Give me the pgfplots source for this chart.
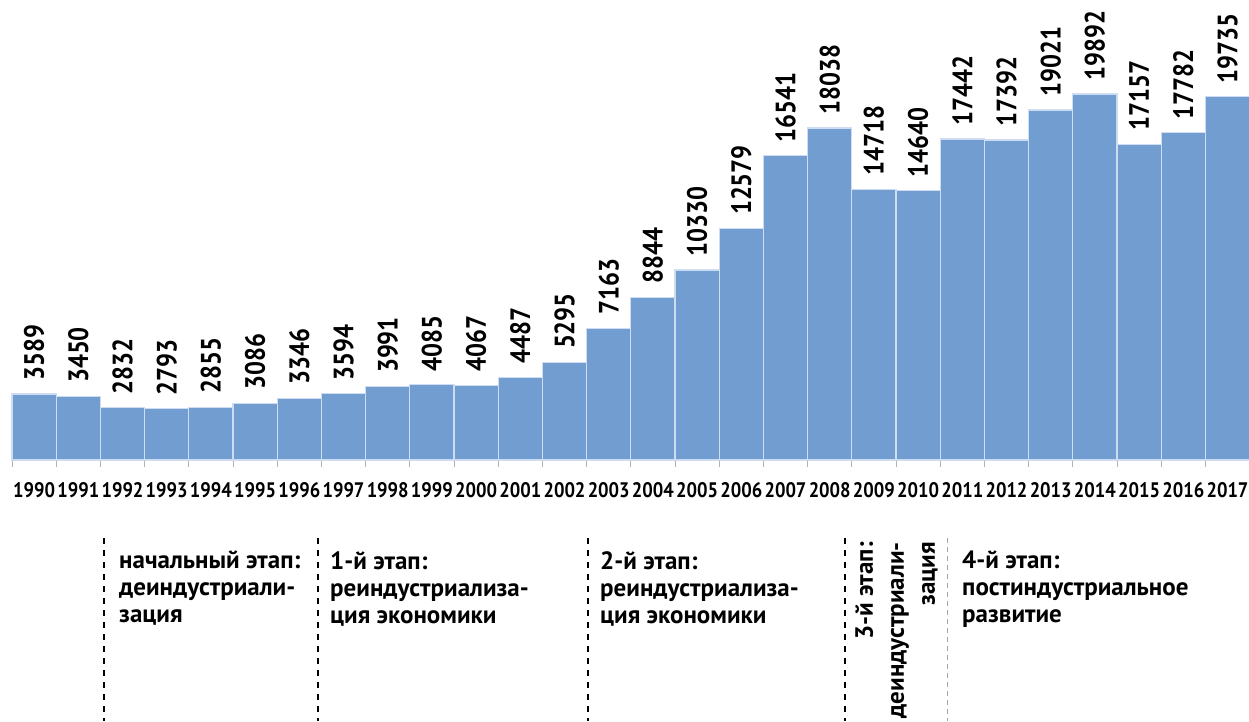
\documentclass[border=0pt]{standalone}
\usepackage{pgfplots}
\pgfplotsset{compat=1.18}
\usepackage{fontspec}
\setmainfont{PT Sans}[FakeStretch=0.88]
\newfontfamily\phasefam{PT Sans}
\definecolor{barblue}{RGB}{114,157,209}
\definecolor{sepcol}{RGB}{205,220,240}
\newcommand\phasefont{\phasefam\bfseries\fontsize{25}{27}\selectfont}
\begin{document}
\begin{tikzpicture}[x=1pt,y=1pt]
\path[use as bounding box] (0,0) rectangle (1249,721);
\clip (0,0) rectangle (1249,721);
\begin{axis}[
  at={(12pt,261pt)}, anchor=south west,
  scale only axis, x=44.2pt, y=0.0184pt,
  xmin=-0.5, xmax=27.5, ymin=0, ymax=21000,
  clip=false,
  axis x line=bottom, axis y line=none,
  axis line style={draw=gray!60, line width=0.8pt, -},
  xtick={0,...,27},
  xticklabels={1990,1991,1992,1993,1994,1995,1996,1997,1998,1999,2000,2001,2002,2003,2004,2005,2006,2007,2008,2009,2010,2011,2012,2013,2014,2015,2016,2017},
  major tick length=0pt,
  minor xtick={-0.5,0.5,...,27.5},
  minor tick length=7pt,
  tick align=outside,
  every minor tick/.style={draw=gray!60, line width=0.8pt},
  xticklabel style={font=\bfseries\fontsize{21}{21}\selectfont, anchor=north, inner sep=0pt, yshift=-22pt},
  /pgf/number format/fixed,
  /pgf/number format/precision=0,
  /pgf/number format/1000 sep={},
  /pgf/number format/assume math mode=true,
]
\addplot[ybar, bar width=44.2pt, fill=barblue, draw=sepcol, line width=1.2pt,
  nodes near coords,
  every node near coord/.append style={rotate=90, anchor=west, inner xsep=13pt, inner ysep=0pt,
    font=\bfseries\fontsize{28}{28}\selectfont, text=black}]
coordinates {
(0,3589) (1,3450) (2,2832) (3,2793) (4,2855) (5,3086) (6,3346) (7,3594)
(8,3991) (9,4085) (10,4067) (11,4487) (12,5295) (13,7163) (14,8844)
(15,10330) (16,12579) (17,16541) (18,18038) (19,14718) (20,14640)
(21,17442) (22,17392) (23,19021) (24,19892) (25,17157) (26,17782) (27,19735)
};
\end{axis}
\begin{scope}[line width=1.6pt, dash pattern=on 6pt off 6pt]
\draw (104,183) -- (104,0);
\draw (318,183) -- (318,0);
\draw (588,183) -- (588,0);
\draw (845,183) -- (845,0);
\end{scope}
\draw[gray!70, line width=0.8pt, dash pattern=on 5pt off 4pt] (947,183) -- (947,0);
\node[anchor=north west, align=left, inner sep=0pt, font=\phasefont] at (119,170) {начальный этап:\\деиндустриали-\\зация};
\node[anchor=north west, align=left, inner sep=0pt, font=\phasefont] at (330,170) {1-й этап:\\реиндустриализа-\\ция экономики};
\node[anchor=north west, align=left, inner sep=0pt, font=\phasefont] at (600,170) {2-й этап:\\реиндустриализа-\\ция экономики};
\node[anchor=north west, align=left, inner sep=0pt, font=\phasefont] at (962,170) {4-й этап:\\постиндустриальное\\развитие};
\node[anchor=north east, align=right, rotate=90, inner sep=0pt, font=\phasefam\bfseries\fontsize{25}{31}\selectfont] at (855,179) {3-й этап:\\деиндустриали-\\зация};
\end{tikzpicture}
\end{document}
